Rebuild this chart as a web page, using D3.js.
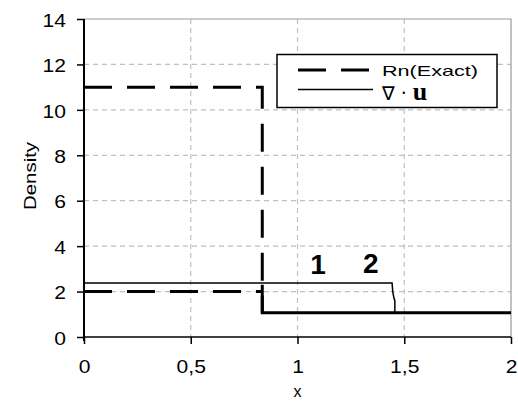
<!DOCTYPE html>
<html>
<head>
<meta charset="utf-8">
<script src="https://cdn.jsdelivr.net/npm/d3@7"></script>
<style>
  html, body { margin: 0; padding: 0; background: #fff; }
  svg { display: block; }
  text { font-family: "Liberation Sans", Arial, sans-serif; fill: #000; }
</style>
</head>
<body>
<svg id="chart" width="518" height="402"></svg>
<script>
// Axis ticks
const xTicks = [0, 0.5, 1, 1.5, 2];
const xTickLabels = ["0", "0,5", "1", "1,5", "2"];
const yTicks = [0, 2, 4, 6, 8, 10, 12, 14];
const yTickLabels = ["0", "2", "4", "6", "8", "10", "12", "14"];

// Exact density, case 1 (high left state)
const exact1X = [0, 0.835, 0.835];
const exact1Y = [11, 11, 1.07];
// Exact density, case 2 (low left state)
const exact2X = [0, 0.835];
const exact2Y = [2, 2];
// Shared exact state behind the shock (both cases coincide here)
const exactRightX = [0.835, 0.835, 2];
const exactRightY = [2.3, 1.07, 1.07];
// Computed divergence of velocity
const divX = [0, 0.003, 1.443, 1.446, 1.452, 1.456, 1.456];
const divY = [2.5, 2.38, 2.38, 2.0, 1.7, 1.6, 1.07];

// Curve labels
const curveLabels = ["1", "2"];
const curveLabelX = [1.096, 1.343];
const curveLabelY = [2.78, 2.8];

const legendLabels = ["Rn(Exact)", "\u2207 \u00b7 "];

const svg = d3.select("#chart");
const mLeft = 84, mRight = 511, mTop = 19, mBottom = 337;
const WIDEN = 1.17;   // horizontal widening of the label lettering

const x = d3.scaleLinear().domain([0, 2]).range([mLeft, mRight]);
const y = d3.scaleLinear().domain([0, 14]).range([mBottom, mTop]);

function widen(sel, k) {
  sel.each(function () {
    const len = this.getComputedTextLength();
    d3.select(this).attr("textLength", len * k).attr("lengthAdjust", "spacingAndGlyphs");
  });
}

// Grid lines
const grid = svg.append("g");
grid.selectAll("line.gx").data(xTicks.slice(1, -1)).join("line")
  .attr("x1", d => x(d)).attr("x2", d => x(d))
  .attr("y1", mTop).attr("y2", mBottom)
  .attr("stroke", "#c0c0c0").attr("stroke-width", 1.2)
  .attr("stroke-dasharray", "5,4");
grid.selectAll("line.gy").data(yTicks.slice(1, -1)).join("line")
  .attr("x1", mLeft).attr("x2", mRight)
  .attr("y1", d => y(d)).attr("y2", d => y(d))
  .attr("stroke", "#c0c0c0").attr("stroke-width", 1.2)
  .attr("stroke-dasharray", "5,4");

// Plot frame (top and right)
svg.append("path")
  .attr("d", `M${mLeft},${mTop}H${mRight}V${mBottom}`)
  .attr("fill", "none").attr("stroke", "#999").attr("stroke-width", 1.2);

// Axes
const yAxis = d3.axisLeft(y).tickValues(yTicks)
  .tickFormat((d, i) => yTickLabels[i]).tickSize(7).tickPadding(11);
const gy = svg.append("g").attr("transform", `translate(${mLeft},0)`).call(yAxis);
gy.select(".domain").attr("stroke", "#000").attr("stroke-width", 2)
  .attr("d", `M0,${mTop}V${mBottom + 4}`);
gy.selectAll(".tick line").attr("stroke", "#000").attr("stroke-width", 1.5);
gy.selectAll(".tick text").style("font-size", "18px")
  .style("font-family", "Liberation Sans, Arial, sans-serif").attr("dy", "0.4em")
  .call(widen, WIDEN);

const xAxis = d3.axisBottom(x).tickValues(xTicks)
  .tickFormat((d, i) => xTickLabels[i]).tickSize(7).tickPadding(16);
const gx = svg.append("g").attr("transform", `translate(0,${mBottom})`).call(xAxis);
gx.select(".domain").attr("stroke", "#000").attr("stroke-width", 1.5)
  .attr("d", `M${mLeft},0H${mRight}`);
gx.selectAll(".tick line").attr("stroke", "#000").attr("stroke-width", 1.5);
gx.selectAll(".tick text").style("font-size", "18px")
  .style("font-family", "Liberation Sans, Arial, sans-serif")
  .call(widen, WIDEN);

// Axis titles
svg.append("text")
  .attr("transform", `translate(36,176) rotate(-90)`)
  .attr("text-anchor", "middle").style("font-size", "17px").text("Density")
  .call(widen, 1.2);
svg.append("text")
  .attr("x", (mLeft + mRight) / 2).attr("y", 397)
  .attr("text-anchor", "middle").style("font-size", "16px").text("x");

// Lines
const line = d3.line().x(d => x(d[0])).y(d => y(d[1]));
const pts = (xs, ys) => xs.map((v, i) => [v, ys[i]]);

svg.append("path").datum(pts(exact1X, exact1Y)).attr("d", line)
  .attr("fill", "none").attr("stroke", "#000").attr("stroke-width", 3)
  .attr("stroke-dasharray", "28,15");
svg.append("path").datum(pts(exact2X, exact2Y)).attr("d", line)
  .attr("fill", "none").attr("stroke", "#000").attr("stroke-width", 3)
  .attr("stroke-dasharray", "28,15");
svg.append("path").datum(pts(exactRightX, exactRightY)).attr("d", line)
  .attr("fill", "none").attr("stroke", "#000").attr("stroke-width", 3);
svg.append("path").datum(pts(divX, divY)).attr("d", line)
  .attr("fill", "none").attr("stroke", "#000").attr("stroke-width", 1.5);

// Curve numbers
svg.selectAll("text.curve").data(curveLabels).join("text")
  .attr("class", "curve")
  .attr("x", (d, i) => x(curveLabelX[i])).attr("y", (d, i) => y(curveLabelY[i]))
  .attr("text-anchor", "middle")
  .style("font-size", "28px").style("font-weight", "bold").text(d => d);

// Legend
const lg = svg.append("g");
lg.append("rect").attr("x", 277).attr("y", 54.5).attr("width", 220).attr("height", 53)
  .attr("fill", "#fff").attr("stroke", "#000").attr("stroke-width", 1.5);
lg.append("line").attr("x1", 298).attr("x2", 371).attr("y1", 70).attr("y2", 70)
  .attr("stroke", "#000").attr("stroke-width", 3).attr("stroke-dasharray", "28,15");
lg.append("line").attr("x1", 298).attr("x2", 373).attr("y1", 89.5).attr("y2", 89.5)
  .attr("stroke", "#000").attr("stroke-width", 1.5);
lg.append("text").attr("x", 382).attr("y", 76)
  .attr("textLength", 96).attr("lengthAdjust", "spacingAndGlyphs")
  .style("font-size", "15px").text(legendLabels[0]);
const t2 = lg.append("text").attr("x", 382).attr("y", 100)
  .style("font-family", "DejaVu Sans, sans-serif").style("font-size", "19px");
t2.append("tspan").text(legendLabels[1]);
t2.append("tspan").style("font-family", "Liberation Serif, serif")
  .style("font-weight", "bold").style("font-size", "26px").text("u");
</script>
</body>
</html>
